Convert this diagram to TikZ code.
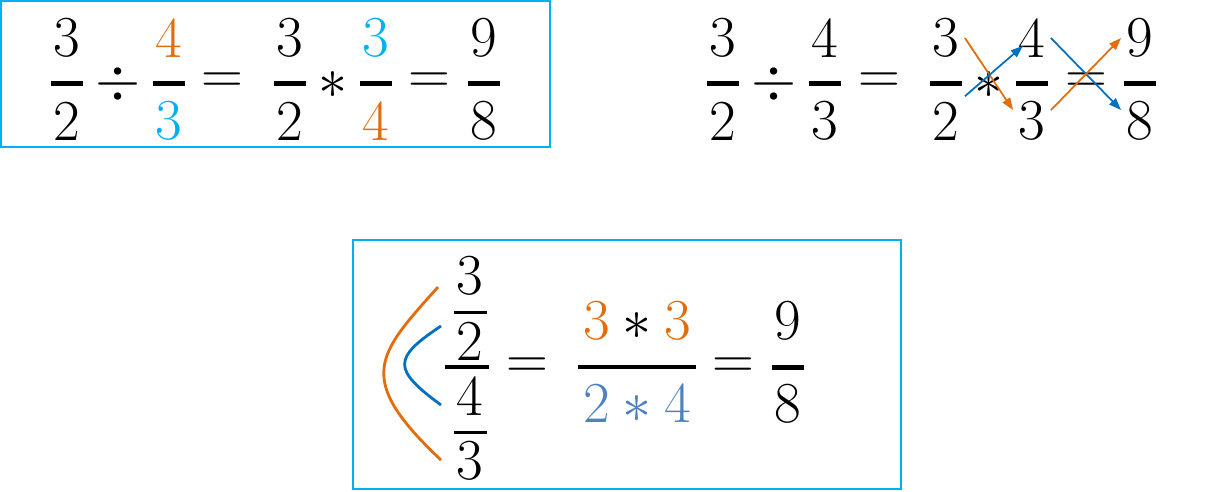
\documentclass[tikz,border=0pt]{standalone}
\usepackage{fix-cm}
\usepackage{amsmath}
\usepackage{tikz}
\usetikzlibrary{arrows.meta}
\definecolor{orng}{HTML}{E46C0A}
\definecolor{cyn}{HTML}{00B0F0}
\definecolor{blu}{HTML}{0070C0}
\definecolor{sblu}{HTML}{4F81BD}
\tikzstyle{digit}=[inner sep=3pt, font=\fontsize{33}{40}\selectfont]
\tikzstyle{sym}=[digit, inner sep=0pt]
\tikzstyle{hbar}=[fill, inner sep=0pt, minimum width=0.64cm, minimum height=0.1cm]
\tikzstyle{thinbar}=[hbar, minimum width=0.66cm, minimum height=0.06cm]
\tikzstyle{box}=[draw=cyn, line width=1.4pt]
\tikzstyle{oarrow}=[orng, line width=1pt, -{Triangle[length=7pt, width=5pt]}]
\tikzstyle{barrow}=[oarrow, blu]

\begin{document}
\begin{tikzpicture}[x=0.02cm, y=-0.02cm]
        \useasboundingbox (0, 0) rectangle (1206, 491);
        % left row
        \draw[box] (1, 1) rectangle (550, 147);
        \foreach \x [count=\i] in {67, 169, 290, 376, 484}
            \node[hbar] (LB\i) at (\x, 83) {};
        \node[digit] (LN1) at (67, 38) {3};
        \node[digit] (LD1) at (67, 121) {2};
        \node[sym] (LDiv) at (118, 84) {$\div$};
        \node[digit, orng] (LN2) at (169, 38) {4};
        \node[digit, cyn] (LD2) at (169, 121) {3};
        \node[sym] (LEq1) at (222, 83) {$=$};
        \node[digit] (LN3) at (290, 38) {3};
        \node[digit] (LD3) at (290, 121) {2};
        \node[sym] (LMul) at (333, 85) {$\ast$};
        \node[digit, cyn] (LN4) at (376, 38) {3};
        \node[digit, orng] (LD4) at (376, 121) {4};
        \node[sym] (LEq2) at (429, 83) {$=$};
        \node[digit] (LN5) at (484, 38) {9};
        \node[digit] (LD5) at (484, 121) {8};
        % right row
        \foreach \x [count=\i] in {723, 825, 946, 1032, 1140}
            \node[hbar] (RB\i) at (\x, 83) {};
        \node[digit] (RN1) at (723, 38) {3};
        \node[digit] (RD1) at (723, 121) {2};
        \node[sym] (RDiv) at (774, 84) {$\div$};
        \node[digit] (RN2) at (825, 38) {4};
        \node[digit] (RD2) at (825, 121) {3};
        \node[sym] (REq1) at (879, 83) {$=$};
        \node[digit] (RN3) at (946, 38) {3};
        \node[digit] (RD3) at (946, 121) {2};
        \node[sym] (RMul) at (989, 85) {$\ast$};
        \node[digit] (RN4) at (1032, 38) {4};
        \node[digit] (RD4) at (1032, 121) {3};
        \node[sym] (REq2) at (1086, 83) {$=$};
        \node[digit] (RN5) at (1140, 38) {9};
        \node[digit] (RD5) at (1140, 121) {8};
        \draw[oarrow] (RN3.east) -- (RD4.150);
        \draw[barrow, shorten >=6.8pt] (RD3.north east) -- (RN4.center);
        \draw[barrow] (RN4.east) -- (RD5.150);
        \draw[oarrow] (RD4.30) -- (RN5.west);
        % bottom box
        \draw[box] (353, 240) rectangle (901, 489);
        \node[digit] (CN1) at (470, 276) {3};
        \node[thinbar] (CB1) at (470, 312) {};
        \node[digit] (CD1) at (470, 341) {2};
        \node[thinbar, minimum width=0.88cm, minimum height=0.07cm] (CB) at (467, 367) {};
        \node[digit] (CN2) at (470, 396) {4};
        \node[thinbar] (CB2) at (470, 432) {};
        \node[digit] (CD2) at (470, 461) {3};
        \coordinate (OA) at (438, 287);
        \coordinate (OB) at (441, 460);
        \coordinate (BA) at (441, 326);
        \coordinate (BB) at (441, 405);
        \draw[orng, line width=1.6pt] (OA) .. controls (377, 355) and (354, 378) .. (OB);
        \draw[blu, line width=1.6pt] (BA) .. controls (393, 358) and (392, 369) .. (BB);
        \node[sym] (BEq1) at (527, 368) {$=$};
        \node[digit] (PN) at (637, 321) {$\textcolor{orng}{3} \ast \textcolor{orng}{3}$};
        \node[hbar, minimum width=2.38cm, minimum height=0.08cm] (PB) at (637, 367) {};
        \node[digit, sblu] (PD) at (637, 404) {$2 \ast 4$};
        \node[sym] (BEq2) at (733, 368) {$=$};
        \node[digit] (FN) at (788, 321) {9};
        \node[hbar] (FB) at (788, 367) {};
        \node[digit] (FD) at (788, 404) {8};
    \end{tikzpicture}
\end{document}
